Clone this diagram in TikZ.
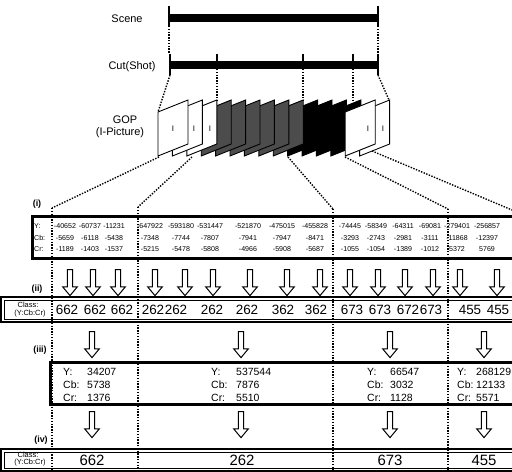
\documentclass[tikz,border=0pt]{standalone}
\usepackage{fontspec}
\setmainfont{Liberation Sans}
\usetikzlibrary{shapes.arrows}

\colorlet{hatch}{black!70}

\begin{document}
\begin{tikzpicture}[
    x=1bp, y=-1bp,
    lbl/.style={inner sep=0pt, font=\fontsize{11}{12}\selectfont},
    tag/.style={inner sep=0pt, font=\fontsize{9}{10}\selectfont\bfseries},
    val/.style={inner sep=0pt, font=\fontsize{7.1}{7.5}\selectfont},
    mid/.style={inner sep=0pt, anchor=west, font=\fontsize{10.5}{11}\selectfont},
    cls/.style={inner sep=0pt, font=\fontsize{13.5}{14}\selectfont},
    clsbig/.style={inner sep=0pt, font=\fontsize{15}{16}\selectfont},
    small/.style={inner sep=0pt, font=\fontsize{7.5}{8}\selectfont},
    bar/.style={line width=7.5bp},
    tick/.style={line width=1.8bp},
    dots/.style={line width=1.4bp, dash pattern=on 1.4bp off 1.4bp},
    frame/.style={draw, line width=0.9bp, line join=miter},
    dnarrow/.style={draw, line width=1bp, fill=white, single arrow,
        shape border rotate=270, minimum height=26bp, inner sep=2.2bp,
        single arrow head extend=4.6bp, single arrow tip angle=80},
    thickbox/.style={line width=3bp},
]
\useasboundingbox (0,0) rectangle (512,472);
\clip (0,0) rectangle (512,472);

% Scene and cut bars
\node[lbl] (scene) at (127,19) {Scene};
\node[lbl] (cut) at (132,67) {Cut(Shot)};
\draw[bar] (169,18) -- (378,18);
\draw[bar] (170,65) -- (378,65);
\foreach \x in {169,378}
    \draw[tick] (\x,6) -- (\x,26);
\foreach \x in {170,378}
    \draw[tick] (\x,54) -- (\x,75);
\foreach \x in {217,303,353}
    \draw[tick] (\x,54) -- (\x,66);

\coordinate (sc0) at (169,26);
\coordinate (sc1) at (378,26);
\coordinate (ct0) at (169,54);
\coordinate (ct1) at (378,54);
\draw[dots] (sc0) -- (ct0);
\draw[dots] (sc1) -- (ct1);

% GOP frames (back to front)
\node[lbl] (gop) at (125,120) {GOP};
\node[lbl] (ipic) at (120,133) {(I-Picture)};
\foreach \k/\c in {14/white,12/black,11/black,10/black,9/black,
                   8/hatch,7/hatch,6/hatch,5/hatch,4/hatch,3/hatch,
                   2/white,1/white,0/white,13/white}
    \filldraw[frame, fill=\c] ({158+14.4*\k},112) -- ++(30,-12) -- ++(0,44) -- ++(-30,12) -- cycle;
\foreach \x [count=\n] in {173,194,210,368,383}
    \node[inner sep=0pt, font=\fontsize{8}{8}\selectfont] (ip\n) at (\x,129) {I};

% cut ticks to frames
\coordinate (cb1) at (170,75);  \coordinate (gf1) at (158,112);
\coordinate (cb2) at (217,69);  \coordinate (gf2) at (217,100);
\coordinate (cb3) at (303,69);  \coordinate (gf3) at (303,100);
\coordinate (cb4) at (353,69);  \coordinate (gf4) at (353,103);
\coordinate (cb5) at (378,75);  \coordinate (gf5) at (389,100);
\foreach \n in {1,...,5}
    \draw[dots] (cb\n) -- (gf\n);

% boxes
\draw[thickbox] (32,217) rectangle (530,258);
\draw[line width=1.4bp] (1,297) rectangle (530,322);
\draw[line width=0.7bp] (4,300) rectangle (530,319);
\draw[thickbox] (50,362) rectangle (530,404);
\draw[line width=1.4bp] (1,449) rectangle (530,471);
\draw[line width=0.7bp] (4,452) rectangle (530,468);

% dotted partitions
\coordinate (fb1) at (159,157);  \coordinate (dt1) at (52,208);  \coordinate (db1) at (52,472);
\coordinate (fb2) at (192,157);  \coordinate (dt2) at (138,207); \coordinate (db2) at (138,472);
\coordinate (fb3) at (288,157);  \coordinate (dt3) at (333,209); \coordinate (db3) at (333,472);
\coordinate (fb4) at (345,157);  \coordinate (dt4) at (448,209); \coordinate (db4) at (448,472);
\coordinate (fb5) at (372,151);  \coordinate (dt5) at (512,210);
\foreach \n in {1,...,5}
    \draw[dots] (fb\n) -- (dt\n);
\foreach \n in {1,...,4}
    \draw[dots] (dt\n) -- (db\n);

% (i) sums
\node[tag] (ti) at (37,204) {(i)};
\node[val, anchor=west] (ly) at (34,226) {Y:};
\node[val, anchor=west] (lcb) at (34,238) {Cb:};
\node[val, anchor=west] (lcr) at (34,249) {Cr:};
\foreach \x/\a/\b/\c [count=\n] in {
    65/-40652/-5659/-1189, 90/-60737/-6118/-1403, 114/-11231/-5438/-1537,
    150/-647922/-7348/-5215, 181/-593180/-7744/-5478, 210/-531447/-7807/-5808,
    248/-521870/-7941/-4966, 282/-475015/-7947/-5908, 315/-455828/-8471/-5687,
    350/-74445/-3293/-1055, 376/-58349/-2743/-1054, 403/-64311/-2981/-1389,
    430/-69081/-3111/-1012, 457/-279401/-11868/5372, 487/-256857/-12397/5769} {
    \node[val] (ya\n) at (\x,226) {\a};
    \node[val] (cba\n) at (\x,238) {\b};
    \node[val] (cra\n) at (\x,249) {\c};
}

% (ii) class per frame
\node[tag] (tii) at (37,289) {(ii)};
\foreach \x [count=\n] in {70,93,118,155,185,213,250,287,320,350,378,405,433,460,497}
    \node[dnarrow] (aii\n) at (\x,281) {};
\node[small] (cl1) at (28,305) {Class:};
\node[small] (yc1) at (30,314) {(Y:Cb:Cr)};
\foreach \x/\v [count=\n] in {67/662,95/662,122/662,153/262,176/262,212/262,
    247/262,283/362,316/362,352/673,380/673,408/672,431/673,470/455,498/455}
    \node[cls] (ci\n) at (\x,310) {\v};

% (iii) group sums
\node[tag] (tiii) at (40,350) {(iii)};
\node[tag] (tiv) at (41,440) {(iv)};
\foreach \x [count=\n] in {92,241,390,484} {
    \node[dnarrow] (aiii\n) at (\x,343) {};
    \node[dnarrow] (aiv\n) at (\x,423) {};
}
\foreach \lx/\vx/\a/\b/\c [count=\n] in {
    63/87/34207/5738/1376, 211/236/537544/7876/5510,
    367/390/66547/3032/1128, 457/476/268129/12133/5571} {
    \node[mid] (gy\n) at (\lx,372) {Y:};
    \node[mid] (gcb\n) at (\lx,385) {Cb:};
    \node[mid] (gcr\n) at (\lx,398) {Cr:};
    \node[mid] (gya\n) at (\vx,372) {\a};
    \node[mid] (gcba\n) at (\vx,385) {\b};
    \node[mid] (gcra\n) at (\vx,398) {\c};
}

% (iv) class per cut
\node[small] (cl2) at (28,455) {Class:};
\node[small] (yc2) at (30,463) {(Y:Cb:Cr)};
\foreach \x/\v [count=\n] in {92/662,242/262,390/673,484/455}
    \node[clsbig] (cg\n) at (\x,460) {\v};
\end{tikzpicture}
\end{document}
